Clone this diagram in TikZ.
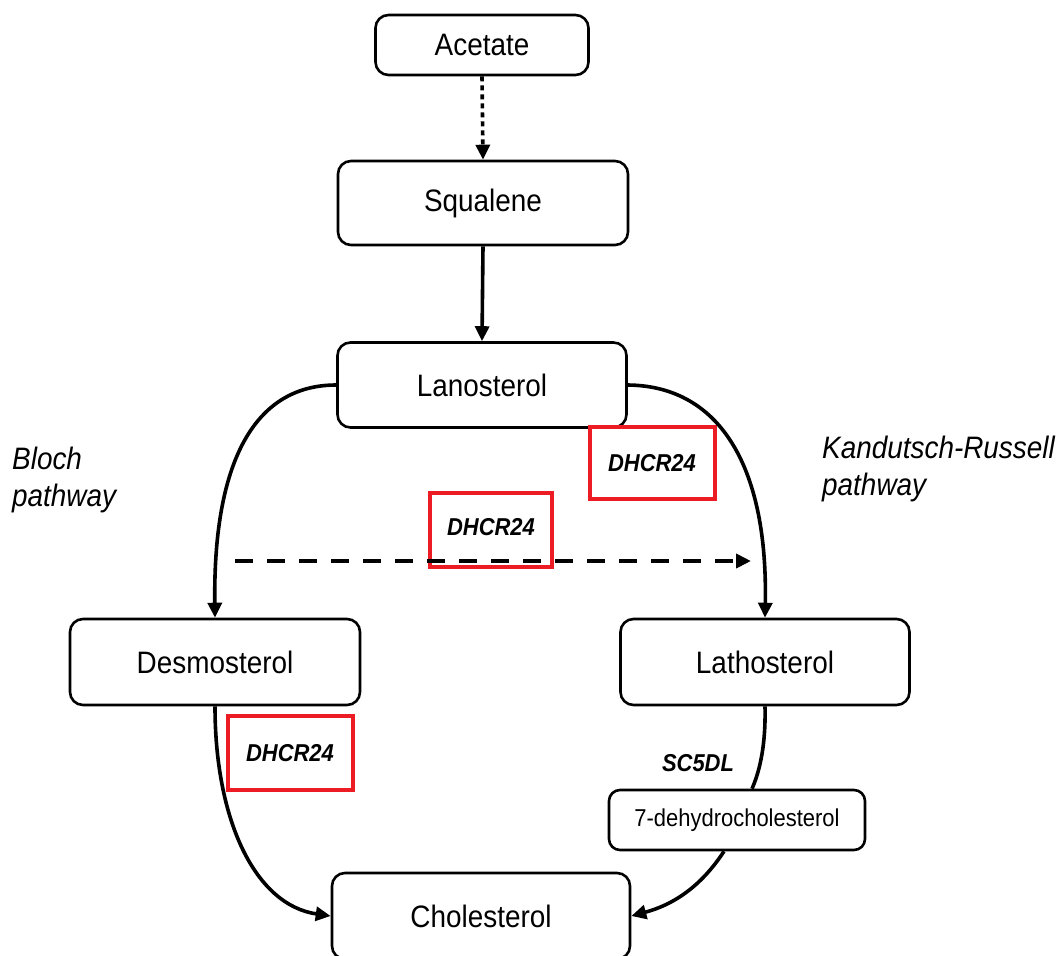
\documentclass[tikz,border=0pt]{standalone}
\usepackage{fontspec}
\setmainfont{Liberation Sans}[FakeStretch=0.9]
\usetikzlibrary{arrows.meta}
\definecolor{redc}{RGB}{237,28,36}
\begin{document}
\begin{tikzpicture}[x=1pt,y=-1pt,
 box/.style={draw,line width=2.6pt,rounded corners=13pt,inner sep=0pt,font=\fontsize{31}{35}\selectfont},
 smallbox/.style={box,rounded corners=11pt,font=\fontsize{24.4}{28}\selectfont},
 enz/.style={draw=redc,line width=4pt,inner sep=0pt,font=\fontsize{24.4}{28}\selectfont\bfseries\itshape},
 enztext/.style={inner sep=0pt,font=\fontsize{24.4}{28}\selectfont\bfseries\itshape},
 conn/.style={line width=3.6pt,-{Triangle[length=15pt,width=14pt]}},
 lbl/.style={font=\fontsize{31}{37}\selectfont\itshape,align=left,anchor=north west,inner sep=0pt}
]
\useasboundingbox (0,0) rectangle (1061,956);
\fill[white] (0,0) rectangle (1061,956);

\node[box,minimum width=213pt,minimum height=60pt] (ace) at (482,45) {Acetate};
\node[box,minimum width=290pt,minimum height=84pt] (squ) at (483,203) {Squalene};
\node[box,minimum width=289pt,minimum height=85pt] (lan) at (482,385) {Lanosterol};
\node[box,minimum width=290pt,minimum height=86pt] (des) at (215,662) {Desmosterol};
\node[box,minimum width=289pt,minimum height=86pt] (lat) at (765,662) {Lathosterol};
\node[smallbox,minimum width=256pt,minimum height=60pt] (dhc) at (737,820) {7-dehydrocholesterol};
\node[box,minimum width=298pt,minimum height=86pt] (cho) at (481,916) {Cholesterol};

\node[enz,minimum width=125pt,minimum height=72pt] (e1) at (652,463) {DHCR24};
\node[enz,minimum width=122pt,minimum height=74pt] (e2) at (491,530) {};
\node[enztext] at (491,527) {DHCR24};
\node[enz,minimum width=125pt,minimum height=74pt] (e3) at (290,753) {DHCR24};
\node[enztext] (sc) at (698,763) {SC5DL};

\node[lbl] (bloch) at (12,447) {Bloch\\pathway};
\node[lbl] (kr) at (822,436) {Kandutsch-Russell\\pathway};

\draw[conn,dash pattern=on 5pt off 4pt] (ace.south) -- (squ.north);
\draw[conn] (squ.south) -- (lan.north);
\draw[conn] (lan.west) .. controls (250,385) and (213,470) .. (des.north);
\draw[conn] (lan.east) .. controls (722,386) and (768,470) .. (lat.north);
\coordinate (ds) at (235,561);
\coordinate (de) at (751,561);
\draw[conn,line width=4pt,dash pattern=on 18pt off 14pt] (ds) -- (de);
\draw[conn] (des.south) .. controls (215,820) and (255,905) .. (cho.west);
\draw[line width=3.6pt] (lat.south) .. controls (766,750) and (758,775) .. (dhc.north -| 752,0);
\draw[conn] (dhc.south -| 724,0) .. controls (700,888) and (672,905) .. (cho.east);
\end{tikzpicture}
\end{document}
